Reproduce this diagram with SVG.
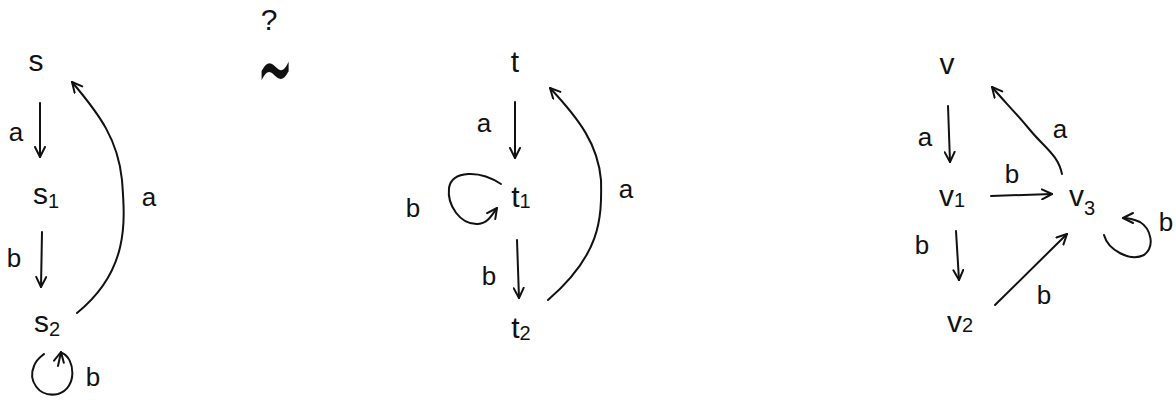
<svg xmlns="http://www.w3.org/2000/svg" width="1176" height="401" viewBox="0 0 1176 401">
<style>
text{font-family:"Liberation Sans","DejaVu Sans",sans-serif;fill:#111;text-anchor:middle}
.n{font-size:30px}
.l{font-size:26px}
.sub{font-size:20px}
.e{fill:none;stroke:#111;stroke-width:2;stroke-linecap:round}
</style>
<defs>
<marker id="ar" viewBox="0 0 12 12" refX="11" refY="6" markerWidth="12" markerHeight="12" markerUnits="userSpaceOnUse" orient="auto">
<path d="M1,1 L11,6 L1,11" fill="none" stroke="#111" stroke-width="2" stroke-linecap="round" stroke-linejoin="round"/>
</marker>
</defs>
<rect width="1176" height="401" fill="#fff"/>
<g id="connectors">
<path class="e" d="M40,103 L40,157" marker-end="url(#ar)"/>
<path class="e" d="M42,232 L41,287" marker-end="url(#ar)"/>
<path class="e" d="M77,313 C130,270 125,220 122,180 C118,140 100,115 72,82" marker-end="url(#ar)"/>
<path class="e" d="M62,353 C75,358 78,388 58,394 C38,398 28,380 34,366 C37,358 42,356 44,354" />
<path class="e" d="M58,366 L61,352" marker-end="url(#ar)"/>
<path class="e" d="M515,102 L515,158" marker-end="url(#ar)"/>
<path class="e" d="M517,240 L519,298" marker-end="url(#ar)"/>
<path class="e" d="M548,300 C600,255 602,220 601,180 C598,145 580,120 550,88" marker-end="url(#ar)"/>
<path class="e" d="M501,184 C480,170 452,170 449,188 C447,205 460,225 478,224 C488,223 492,215 497,208" marker-end="url(#ar)"/>
<path class="e" d="M948,106 L950,162" marker-end="url(#ar)"/>
<path class="e" d="M956,231 L959,280" marker-end="url(#ar)"/>
<path class="e" d="M991,196 L1052,194" marker-end="url(#ar)"/>
<path class="e" d="M995,305 L1067,234" marker-end="url(#ar)"/>
<path class="e" d="M1062,174 C1058,155 1045,148 1030,130 C1015,112 1003,100 992,87" marker-end="url(#ar)"/>
<path class="e" d="M1104,235 C1108,250 1130,262 1144,255 C1156,246 1150,228 1140,222 C1133,219 1128,218 1123,218" marker-end="url(#ar)"/>
</g>
<g id="s"><text class="n" x="36" y="71">s</text></g>
<g id="s1"><text class="n" x="46" y="204">s<tspan class="sub" dy="4">1</tspan></text></g>
<g id="s2"><text class="n" x="47" y="332">s<tspan class="sub" dy="4">2</tspan></text></g>
<g id="sym"><text style="font-size:30px" x="269" y="30">?</text><text style="font-size:54px;font-family:'DejaVu Sans',sans-serif" transform="translate(275,105) scale(0.8,2)" x="0" y="0">∼</text></g>
<g id="t"><text class="n" x="515" y="72">t</text></g>
<g id="t1"><text class="n" x="521" y="207">t<tspan class="sub" dy="1">1</tspan></text></g>
<g id="t2"><text class="n" x="521" y="338">t<tspan class="sub" dy="2">2</tspan></text></g>
<g id="v"><text class="n" x="947" y="74">v</text></g>
<g id="v1"><text class="n" x="952" y="206">v<tspan class="sub" dy="1">1</tspan></text></g>
<g id="v2"><text class="n" x="960" y="332">v<tspan class="sub" dy="0">2</tspan></text></g>
<g id="v3"><text class="n" x="1082" y="206">v<tspan class="sub" dy="9">3</tspan></text></g>
<g id="labels">
<text class="l" x="16" y="141">a</text>
<text class="l" x="14" y="267">b</text>
<text class="l" x="149" y="206">a</text>
<text class="l" x="93" y="386">b</text>
<text class="l" x="484" y="132">a</text>
<text class="l" x="489" y="285">b</text>
<text class="l" x="626" y="198">a</text>
<text class="l" x="413" y="217">b</text>
<text class="l" x="925" y="146">a</text>
<text class="l" x="922" y="254">b</text>
<text class="l" x="1012" y="183">b</text>
<text class="l" x="1044" y="304">b</text>
<text class="l" x="1060" y="138">a</text>
<text class="l" x="1166" y="231">b</text>
</g>
</svg>
